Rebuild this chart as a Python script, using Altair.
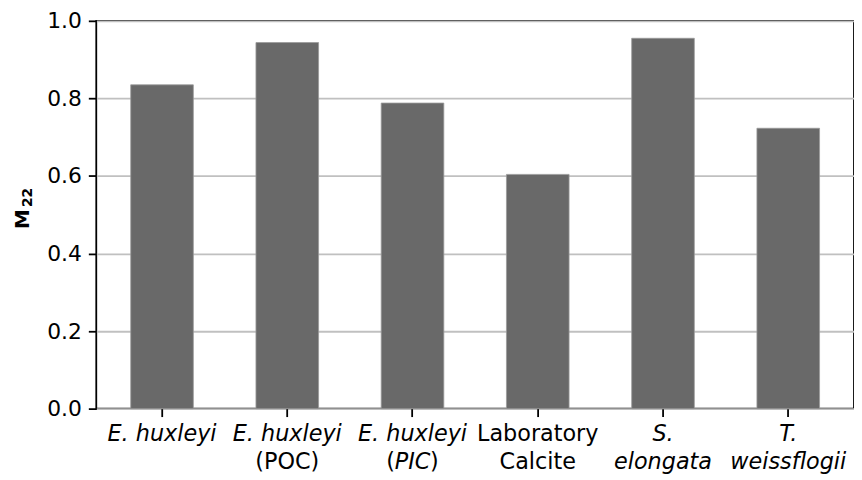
import altair as alt
import pandas as pd

categories = ["E. huxleyi", "E. huxleyi (POC)", "E. huxleyi (PIC)",
              "Laboratory Calcite", "S. elongata", "T. weissflogii"]
values = [0.835, 0.944, 0.788, 0.604, 0.955, 0.723]

# label pieces: (category, line, text, italic, dx)
label_cat = ["E. huxleyi", "E. huxleyi (POC)", "E. huxleyi (POC)", "E. huxleyi (PIC)",
             "E. huxleyi (PIC)", "E. huxleyi (PIC)", "E. huxleyi (PIC)",
             "Laboratory Calcite", "Laboratory Calcite", "S. elongata", "S. elongata",
             "T. weissflogii", "T. weissflogii"]
label_line = [1, 1, 2, 1, 2, 2, 2, 1, 2, 1, 2, 1, 2]
label_text = ["E. huxleyi", "E. huxleyi", "(POC)", "E. huxleyi",
              "(", "PIC", ")", "Laboratory", "Calcite", "S.", "elongata",
              "T.", "weissflogii"]
label_italic = [True, True, False, True, False, True, False,
                False, False, True, True, True, True]
label_dx = [0, 0, 0, 0, -22, 0, 22, 0, 0, 0, 0, 0, 0]

df = pd.DataFrame({"cat": categories, "val": values})
lab = pd.DataFrame({"cat": label_cat, "line": label_line, "text": label_text,
                    "italic": label_italic, "dx": label_dx})

PAD_TOP = 11
W, H = 764, 391
FONT = "DejaVu Sans"

xscale = alt.Scale(domain=categories, paddingInner=0.5, paddingOuter=0.275)

bars = alt.Chart(df).mark_bar(color="#696969", stroke="#9a9a9a", strokeWidth=0.8).encode(
    x=alt.X("cat:N", scale=xscale, sort=categories,
            axis=alt.Axis(title=None, labels=False, ticks=True, tickSize=8,
                          tickWidth=1.8, tickColor="#000000", domain=False, grid=False)),
    y=alt.Y("val:Q", scale=alt.Scale(domain=[0, 1], nice=False),
            axis=alt.Axis(title=None, values=[0, 0.2, 0.4, 0.6, 0.8, 1.0], format=".1f",
                          tickSize=8, tickWidth=1.8, tickColor="#000000",
                          labelPadding=7, labelFontSize=22, labelFont=FONT,
                          labelColor="#000000",
                          domain=False, grid=True, gridColor="#c0c0c0", gridWidth=1.8)),
)

layers = [bars]
for line, yoff in [(1, H + 33), (2, H + 61)]:
    for italic in [True, False]:
        for dxv in sorted(set(label_dx)):
            sub = lab[(lab.line == line) & (lab.italic == italic) & (lab.dx == dxv)]
            if len(sub) == 0:
                continue
            t = alt.Chart(sub).mark_text(
                font=FONT, fontSize=22.5, fontStyle="italic" if italic else "normal",
                baseline="alphabetic", align="center", color="#000000", dx=dxv
            ).encode(
                x=alt.X("cat:N", scale=xscale, sort=categories),
                y=alt.value(yoff),
                text="text:N",
            )
            layers.append(t)

# y-axis title "M" with subscript "22"
title_df = pd.DataFrame({"t": ["M"]})
sub_df = pd.DataFrame({"t": ["22"]})
title_m = alt.Chart(title_df).mark_text(
    font=FONT, fontSize=20, fontWeight="bold", angle=270, align="center",
    baseline="alphabetic", color="#000000"
).encode(x=alt.value(-68), y=alt.value(219 - 8 - PAD_TOP), text="t:N")
title_sub = alt.Chart(sub_df).mark_text(
    font=FONT, fontSize=14, fontWeight="bold", angle=270, align="center",
    baseline="alphabetic", color="#000000"
).encode(x=alt.value(-65), y=alt.value(197 - 8 - PAD_TOP), text="t:N")
layers += [title_m, title_sub]

chart = alt.layer(*layers).properties(
    width=W, height=H,
    background="white",
    autosize=alt.AutoSizeParams(type="none"),
    padding={"left": 89, "top": PAD_TOP, "right": 0, "bottom": 68},
).configure_view(stroke="#000000", strokeWidth=1.8)

chart.save("out.html", embed_options={"renderer": "svg", "actions": False})
